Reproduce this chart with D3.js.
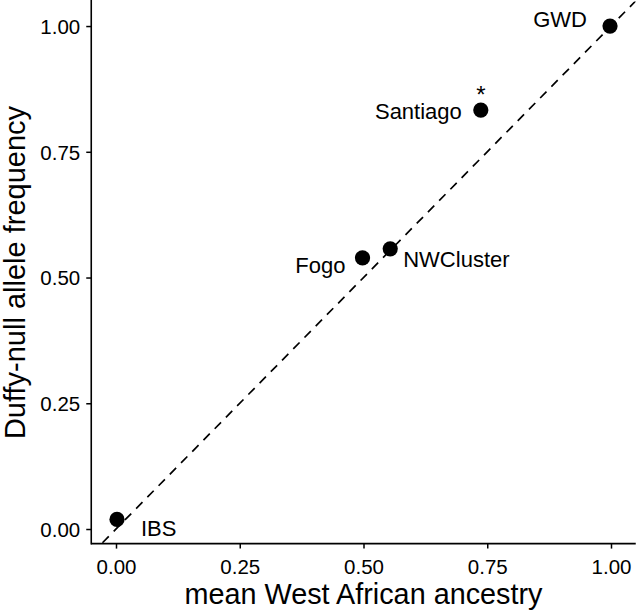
<!DOCTYPE html>
<html>
<head>
<meta charset="utf-8">
<script src="https://cdn.jsdelivr.net/npm/d3@7"></script>
<style>
  html, body { margin: 0; padding: 0; background: #fff; }
  svg { display: block; font-family: "Liberation Sans", Arial, Helvetica, sans-serif; }
</style>
</head>
<body>
<svg id="chart" width="636" height="612"></svg>
<script>
// ---- data ----
const populations = ["IBS", "Fogo", "NWCluster", "Santiago", "GWD"];
const westAfricanAncestry = [0.002, 0.498, 0.554, 0.737, 0.998];
const duffyNullFreq = [0.019, 0.539, 0.557, 0.833, 1.0];
const significant = [false, false, false, true, false];
const xTicks = [0, 0.25, 0.5, 0.75, 1.0];
const yTicks = [0, 0.25, 0.5, 0.75, 1.0];
const tickLabels = ["0.00", "0.25", "0.50", "0.75", "1.00"];
const xTitle = "mean West African ancestry";
const yTitle = "Duffy-null allele frequency";

// ---- label layout (style, not data) ----
const labelLayout = {
  IBS:       { anchor: "start", dx: 24,  dy: 17 },
  Fogo:      { anchor: "end",   dx: -17, dy: 15 },
  NWCluster: { anchor: "start", dx: 13,  dy: 18 },
  Santiago:  { anchor: "end",   dx: -19, dy: 9 },
  GWD:       { anchor: "end",   dx: -23, dy: 1 }
};

const W = 636, H = 612;
const panel = { left: 91.25, right: 635.75, top: 1.4, bottom: 543.6 };

const x = d3.scaleLinear().domain([-0.05, 1.05]).range([panel.left, panel.right]);
const y = d3.scaleLinear().domain([-0.029, 1.049]).range([panel.bottom, panel.top]);

const svg = d3.select("#chart");

svg.append("defs").append("clipPath").attr("id", "panelClip")
  .append("rect")
  .attr("x", panel.left).attr("y", panel.top)
  .attr("width", panel.right - panel.left).attr("height", panel.bottom - panel.top);

// identity dashed line
const lineDomain = [-0.05, 1.05];
svg.append("line")
  .attr("clip-path", "url(#panelClip)")
  .attr("x1", x(lineDomain[0])).attr("y1", y(lineDomain[0]))
  .attr("x2", x(lineDomain[1])).attr("y2", y(lineDomain[1]))
  .attr("stroke", "#000").attr("stroke-width", 1.7)
  .attr("stroke-dasharray", "9,7");

// axes
const xAxis = d3.axisBottom(x).tickValues(xTicks)
  .tickFormat((d, i) => tickLabels[i]).tickSizeOuter(0).tickSize(5).tickPadding(6);
const yAxis = d3.axisLeft(y).tickValues(yTicks)
  .tickFormat((d, i) => tickLabels[i]).tickSizeOuter(0).tickSize(5).tickPadding(6);

const gx = svg.append("g").attr("transform", `translate(0,${panel.bottom})`).call(xAxis);
const gy = svg.append("g").attr("transform", `translate(${panel.left},0)`).call(yAxis);

[gx, gy].forEach(g => {
  g.select(".domain").remove();
  g.selectAll(".tick line").attr("stroke", "#000").attr("stroke-width", 1.5);
  g.selectAll(".tick text").attr("fill", "#000").attr("font-size", 20.5)
    .attr("font-family", "'Liberation Sans', Arial, sans-serif");
});
gy.selectAll(".tick text").attr("dy", "0.36em");
gx.selectAll(".tick text").attr("dy", "0.95em");

// axis lines
svg.append("line").attr("x1", panel.left).attr("x2", panel.right)
  .attr("y1", panel.bottom).attr("y2", panel.bottom)
  .attr("stroke", "#000").attr("stroke-width", 1.6);
svg.append("line").attr("x1", panel.left).attr("x2", panel.left)
  .attr("y1", panel.top - 2).attr("y2", panel.bottom + 0.8)
  .attr("stroke", "#000").attr("stroke-width", 1.6);

// titles
svg.append("text")
  .attr("x", (panel.left + panel.right) / 2).attr("y", 604)
  .attr("text-anchor", "middle").attr("font-size", 28.8).attr("fill", "#000")
  .text(xTitle);
svg.append("text")
  .attr("transform", `translate(25,${(panel.top + panel.bottom) / 2}) rotate(-90)`)
  .attr("text-anchor", "middle").attr("font-size", 29).attr("fill", "#000")
  .text(yTitle);

// points
const data = populations.map((p, i) => ({
  pop: p, xv: westAfricanAncestry[i], yv: duffyNullFreq[i], sig: significant[i]
}));

svg.append("g").selectAll("circle").data(data).join("circle")
  .attr("cx", d => x(d.xv)).attr("cy", d => y(d.yv)).attr("r", 7.6)
  .attr("fill", "#000");

// labels
svg.append("g").selectAll("text").data(data).join("text")
  .attr("x", d => x(d.xv) + labelLayout[d.pop].dx)
  .attr("y", d => y(d.yv) + labelLayout[d.pop].dy)
  .attr("text-anchor", d => labelLayout[d.pop].anchor)
  .attr("font-size", 22).attr("fill", "#000")
  .text(d => d.pop);

// significance asterisk
svg.append("g").selectAll("text").data(data.filter(d => d.sig)).join("text")
  .attr("x", d => x(d.xv)).attr("y", d => y(d.yv) - 7)
  .attr("text-anchor", "middle").attr("font-size", 24).attr("fill", "#000")
  .text("*");
</script>
</body>
</html>
